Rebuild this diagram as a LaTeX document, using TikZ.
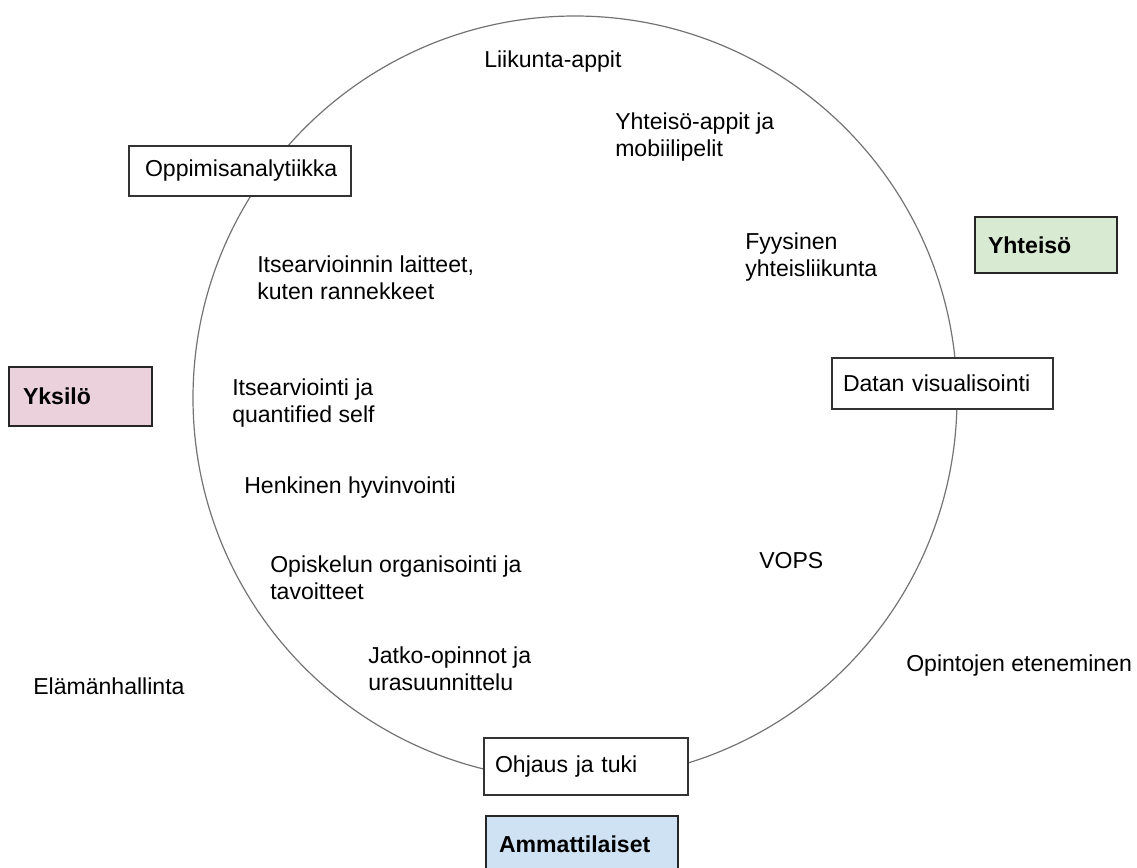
\documentclass[tikz,border=0pt]{standalone}
\usepackage{fontspec}
\setmainfont{Liberation Sans}
\usetikzlibrary{positioning}
\definecolor{yksfill}{HTML}{EAD1DC}
\definecolor{yhtfill}{HTML}{D9EAD3}
\definecolor{ammfill}{HTML}{CFE2F3}

\begin{document}
\begin{tikzpicture}[x=0.75pt,y=-0.75pt,
lbl/.style={anchor=west,align=left,inner sep=0pt,font=\fontsize{17.3}{20.25}\selectfont},
box/.style={draw=black!80,line width=0.9pt,fill=white,align=left,inner ysep=0pt,font=\fontsize{17.3}{20.25}\selectfont},
grp/.style={box,draw=black!85,line width=1.6pt,font=\fontsize{17.3}{20.25}\selectfont\bfseries}]

\useasboundingbox (0,0) rectangle (1137,867);
\node[circle,draw=black!55,line width=0.9pt,minimum size=573pt,inner sep=0pt] (ring) at (575,398) {};

% boxes on the ring
\node[box,text width=142.5pt,inner xsep=12pt,minimum height=37.5pt] (oppi) at (240,171) {Oppimisanalytiikka};
\node[box,text width=149.25pt,inner xsep=8.25pt,minimum height=38.25pt] (datan) at (942.5,383.5) {Datan visualisointi};
\node[box,text width=136.5pt,inner xsep=8.25pt,minimum height=42.75pt] (ohjaus) at (586,766.5) {Ohjaus ja tuki};

% groups
\node[grp,fill=yksfill,text width=86.25pt,inner xsep=10.5pt,minimum height=44.25pt] (yksilo) at (80.5,396.5) {Yksilö};
\node[grp,fill=yhtfill,text width=87pt,inner xsep=9.75pt,minimum height=42pt] (yhteiso) at (1046,245) {Yhteisö};
\node[grp,fill=ammfill,text width=124.5pt,inner xsep=9.75pt,minimum height=43.5pt,below=14.25pt of ohjaus,xshift=-3pt] (ammatti) {Ammattilaiset};

% labels
\node[lbl] (liik) at (484,62) {Liikunta-appit};
\node[lbl] (yapp) at (615,137) {Yhteisö-appit ja\\mobiilipelit};
\node[lbl] (fyys) at (745,257) {Fyysinen\\yhteisliikunta};
\node[lbl] (laitt) at (257,278) {Itsearvioinnin laitteet,\\kuten rannekkeet};
\node[lbl] (itse) at (232,403) {Itsearviointi ja\\quantified self};
\node[lbl] (henk) at (244,488) {Henkinen hyvinvointi};
\node[lbl] (opis) at (270,578) {Opiskelun organisointi ja\\tavoitteet};
\node[lbl] (jatko) at (368,669) {Jatko-opinnot ja\\urasuunnittelu};
\node[lbl] (vops) at (759,561) {VOPS};
\node[lbl] (eten) at (906,666) {Opintojen eteneminen};
\node[lbl] (elam) at (33,686) {Elämänhallinta};
\end{tikzpicture}
\end{document}
